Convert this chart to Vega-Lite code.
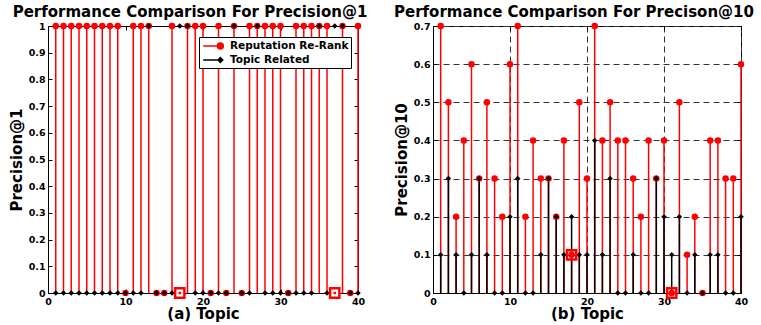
{
  "$schema": "https://vega.github.io/schema/vega-lite/v6.json",
  "background": "white",
  "padding": {"left": 8, "top": 4, "right": 0, "bottom": 0},
  "spacing": 25,
  "config": {
    "view": {"stroke": "black", "strokeWidth": 1},
    "axis": {"domainColor": "black", "domainWidth": 1, "tickColor": "black", "tickSize": -4, "tickWidth": 1, "labelFont": "DejaVu Sans", "labelFontWeight": "bold", "labelFontSize": 9.5, "labelColor": "black", "labelPadding": 7, "titleFont": "DejaVu Sans", "titleFontWeight": "bold", "titleFontSize": 15, "titleColor": "black", "grid": false, "labelFlush": false},
    "axisX": {"titlePadding": 1},
    "axisY": {"titlePadding": 4},
    "title": {"font": "DejaVu Sans", "fontSize": 15, "fontWeight": "bold", "color": "black", "anchor": "middle", "frame": "group", "offset": 1},
    "legend": {"orient": "none", "strokeColor": "black", "fillColor": "white", "padding": 2, "symbolSize": 144, "symbolStrokeWidth": 1.5, "symbolOpacity": 1, "labelFont": "DejaVu Sans", "labelFontWeight": "bold", "labelFontSize": 10.5, "labelColor": "black", "labelOffset": 12, "symbolOffset": 3, "rowPadding": 0}
  },
  "datasets": {
    "p1": [
      {"topic": 1, "series": "Reputation Re-Rank", "value": 1}, {"topic": 1, "series": "Topic Related", "value": 0},
      {"topic": 2, "series": "Reputation Re-Rank", "value": 1}, {"topic": 2, "series": "Topic Related", "value": 0},
      {"topic": 3, "series": "Reputation Re-Rank", "value": 1}, {"topic": 3, "series": "Topic Related", "value": 0},
      {"topic": 4, "series": "Reputation Re-Rank", "value": 1}, {"topic": 4, "series": "Topic Related", "value": 0},
      {"topic": 5, "series": "Reputation Re-Rank", "value": 1}, {"topic": 5, "series": "Topic Related", "value": 0},
      {"topic": 6, "series": "Reputation Re-Rank", "value": 1}, {"topic": 6, "series": "Topic Related", "value": 0},
      {"topic": 7, "series": "Reputation Re-Rank", "value": 1}, {"topic": 7, "series": "Topic Related", "value": 0},
      {"topic": 8, "series": "Reputation Re-Rank", "value": 1}, {"topic": 8, "series": "Topic Related", "value": 0},
      {"topic": 9, "series": "Reputation Re-Rank", "value": 1}, {"topic": 9, "series": "Topic Related", "value": 0},
      {"topic": 10, "series": "Reputation Re-Rank", "value": 0}, {"topic": 10, "series": "Topic Related", "value": 0},
      {"topic": 11, "series": "Reputation Re-Rank", "value": 1}, {"topic": 11, "series": "Topic Related", "value": 0},
      {"topic": 12, "series": "Reputation Re-Rank", "value": 1}, {"topic": 12, "series": "Topic Related", "value": 0},
      {"topic": 13, "series": "Reputation Re-Rank", "value": 1}, {"topic": 13, "series": "Topic Related", "value": 1},
      {"topic": 14, "series": "Reputation Re-Rank", "value": 0}, {"topic": 14, "series": "Topic Related", "value": 0},
      {"topic": 15, "series": "Reputation Re-Rank", "value": 0}, {"topic": 15, "series": "Topic Related", "value": 0},
      {"topic": 16, "series": "Reputation Re-Rank", "value": 1}, {"topic": 16, "series": "Topic Related", "value": 0},
      {"topic": 17, "series": "Reputation Re-Rank", "value": 0}, {"topic": 17, "series": "Topic Related", "value": 1},
      {"topic": 18, "series": "Reputation Re-Rank", "value": 1}, {"topic": 18, "series": "Topic Related", "value": 1},
      {"topic": 19, "series": "Reputation Re-Rank", "value": 1}, {"topic": 19, "series": "Topic Related", "value": 0},
      {"topic": 20, "series": "Reputation Re-Rank", "value": 1}, {"topic": 20, "series": "Topic Related", "value": 0},
      {"topic": 21, "series": "Reputation Re-Rank", "value": 0}, {"topic": 21, "series": "Topic Related", "value": 0},
      {"topic": 22, "series": "Reputation Re-Rank", "value": 1}, {"topic": 22, "series": "Topic Related", "value": 0},
      {"topic": 23, "series": "Reputation Re-Rank", "value": 0}, {"topic": 23, "series": "Topic Related", "value": 0},
      {"topic": 24, "series": "Reputation Re-Rank", "value": 1}, {"topic": 24, "series": "Topic Related", "value": 1},
      {"topic": 25, "series": "Reputation Re-Rank", "value": 0}, {"topic": 25, "series": "Topic Related", "value": 0},
      {"topic": 26, "series": "Reputation Re-Rank", "value": 1}, {"topic": 26, "series": "Topic Related", "value": 0},
      {"topic": 27, "series": "Reputation Re-Rank", "value": 1}, {"topic": 27, "series": "Topic Related", "value": 1},
      {"topic": 28, "series": "Reputation Re-Rank", "value": 1}, {"topic": 28, "series": "Topic Related", "value": 0},
      {"topic": 29, "series": "Reputation Re-Rank", "value": 1}, {"topic": 29, "series": "Topic Related", "value": 0},
      {"topic": 30, "series": "Reputation Re-Rank", "value": 1}, {"topic": 30, "series": "Topic Related", "value": 0},
      {"topic": 31, "series": "Reputation Re-Rank", "value": 0}, {"topic": 31, "series": "Topic Related", "value": 0},
      {"topic": 32, "series": "Reputation Re-Rank", "value": 1}, {"topic": 32, "series": "Topic Related", "value": 0},
      {"topic": 33, "series": "Reputation Re-Rank", "value": 1}, {"topic": 33, "series": "Topic Related", "value": 0},
      {"topic": 34, "series": "Reputation Re-Rank", "value": 1}, {"topic": 34, "series": "Topic Related", "value": 0},
      {"topic": 35, "series": "Reputation Re-Rank", "value": 1}, {"topic": 35, "series": "Topic Related", "value": 1},
      {"topic": 36, "series": "Reputation Re-Rank", "value": 1}, {"topic": 36, "series": "Topic Related", "value": 0},
      {"topic": 37, "series": "Reputation Re-Rank", "value": 0}, {"topic": 37, "series": "Topic Related", "value": 1},
      {"topic": 38, "series": "Reputation Re-Rank", "value": 1}, {"topic": 38, "series": "Topic Related", "value": 1},
      {"topic": 39, "series": "Reputation Re-Rank", "value": 0}, {"topic": 39, "series": "Topic Related", "value": 0},
      {"topic": 40, "series": "Reputation Re-Rank", "value": 1}, {"topic": 40, "series": "Topic Related", "value": 0}
    ],
    "p10": [
      {"topic": 1, "series": "Reputation Re-Rank", "value": 0.7}, {"topic": 1, "series": "Topic Related", "value": 0.1},
      {"topic": 2, "series": "Reputation Re-Rank", "value": 0.5}, {"topic": 2, "series": "Topic Related", "value": 0.3},
      {"topic": 3, "series": "Reputation Re-Rank", "value": 0.2}, {"topic": 3, "series": "Topic Related", "value": 0.1},
      {"topic": 4, "series": "Reputation Re-Rank", "value": 0.4}, {"topic": 4, "series": "Topic Related", "value": 0},
      {"topic": 5, "series": "Reputation Re-Rank", "value": 0.6}, {"topic": 5, "series": "Topic Related", "value": 0.1},
      {"topic": 6, "series": "Reputation Re-Rank", "value": 0.3}, {"topic": 6, "series": "Topic Related", "value": 0.3},
      {"topic": 7, "series": "Reputation Re-Rank", "value": 0.5}, {"topic": 7, "series": "Topic Related", "value": 0.1},
      {"topic": 8, "series": "Reputation Re-Rank", "value": 0.3}, {"topic": 8, "series": "Topic Related", "value": 0},
      {"topic": 9, "series": "Reputation Re-Rank", "value": 0.2}, {"topic": 9, "series": "Topic Related", "value": 0},
      {"topic": 10, "series": "Reputation Re-Rank", "value": 0.6}, {"topic": 10, "series": "Topic Related", "value": 0.2},
      {"topic": 11, "series": "Reputation Re-Rank", "value": 0.7}, {"topic": 11, "series": "Topic Related", "value": 0.3},
      {"topic": 12, "series": "Reputation Re-Rank", "value": 0.2}, {"topic": 12, "series": "Topic Related", "value": 0},
      {"topic": 13, "series": "Reputation Re-Rank", "value": 0.4}, {"topic": 13, "series": "Topic Related", "value": 0},
      {"topic": 14, "series": "Reputation Re-Rank", "value": 0.3}, {"topic": 14, "series": "Topic Related", "value": 0.1},
      {"topic": 15, "series": "Reputation Re-Rank", "value": 0.3}, {"topic": 15, "series": "Topic Related", "value": 0.3},
      {"topic": 16, "series": "Reputation Re-Rank", "value": 0.2}, {"topic": 16, "series": "Topic Related", "value": 0.2},
      {"topic": 17, "series": "Reputation Re-Rank", "value": 0.4}, {"topic": 17, "series": "Topic Related", "value": 0.1},
      {"topic": 18, "series": "Reputation Re-Rank", "value": 0.1}, {"topic": 18, "series": "Topic Related", "value": 0.2},
      {"topic": 19, "series": "Reputation Re-Rank", "value": 0.5}, {"topic": 19, "series": "Topic Related", "value": 0.1},
      {"topic": 20, "series": "Reputation Re-Rank", "value": 0.3}, {"topic": 20, "series": "Topic Related", "value": 0.1},
      {"topic": 21, "series": "Reputation Re-Rank", "value": 0.7}, {"topic": 21, "series": "Topic Related", "value": 0.4},
      {"topic": 22, "series": "Reputation Re-Rank", "value": 0.4}, {"topic": 22, "series": "Topic Related", "value": 0.1},
      {"topic": 23, "series": "Reputation Re-Rank", "value": 0.5}, {"topic": 23, "series": "Topic Related", "value": 0.3},
      {"topic": 24, "series": "Reputation Re-Rank", "value": 0.4}, {"topic": 24, "series": "Topic Related", "value": 0},
      {"topic": 25, "series": "Reputation Re-Rank", "value": 0.4}, {"topic": 25, "series": "Topic Related", "value": 0},
      {"topic": 26, "series": "Reputation Re-Rank", "value": 0.3}, {"topic": 26, "series": "Topic Related", "value": 0.1},
      {"topic": 27, "series": "Reputation Re-Rank", "value": 0.2}, {"topic": 27, "series": "Topic Related", "value": 0},
      {"topic": 28, "series": "Reputation Re-Rank", "value": 0.4}, {"topic": 28, "series": "Topic Related", "value": 0},
      {"topic": 29, "series": "Reputation Re-Rank", "value": 0.3}, {"topic": 29, "series": "Topic Related", "value": 0.3},
      {"topic": 30, "series": "Reputation Re-Rank", "value": 0.4}, {"topic": 30, "series": "Topic Related", "value": 0.2},
      {"topic": 31, "series": "Reputation Re-Rank", "value": 0}, {"topic": 31, "series": "Topic Related", "value": 0.1},
      {"topic": 32, "series": "Reputation Re-Rank", "value": 0.5}, {"topic": 32, "series": "Topic Related", "value": 0.2},
      {"topic": 33, "series": "Reputation Re-Rank", "value": 0.1}, {"topic": 33, "series": "Topic Related", "value": 0},
      {"topic": 34, "series": "Reputation Re-Rank", "value": 0.2}, {"topic": 34, "series": "Topic Related", "value": 0.1},
      {"topic": 35, "series": "Reputation Re-Rank", "value": 0}, {"topic": 35, "series": "Topic Related", "value": 0},
      {"topic": 36, "series": "Reputation Re-Rank", "value": 0.4}, {"topic": 36, "series": "Topic Related", "value": 0.1},
      {"topic": 37, "series": "Reputation Re-Rank", "value": 0.4}, {"topic": 37, "series": "Topic Related", "value": 0.1},
      {"topic": 38, "series": "Reputation Re-Rank", "value": 0.3}, {"topic": 38, "series": "Topic Related", "value": 0},
      {"topic": 39, "series": "Reputation Re-Rank", "value": 0.3}, {"topic": 39, "series": "Topic Related", "value": 0},
      {"topic": 40, "series": "Reputation Re-Rank", "value": 0.6}, {"topic": 40, "series": "Topic Related", "value": 0.2}
    ],
    "hl1": [{"topic": 17, "value": 0}, {"topic": 37, "value": 0}],
    "hl10": [{"topic": 18, "value": 0.1}, {"topic": 31, "value": 0}]
  },
  "hconcat": [
    {
      "width": 310,
      "height": 267,
      "title": {"text": "Performance Comparison For Precision@1", "dx": -13},
      "data": {"name": "p1"},
      "resolve": {"axis": {"x": "independent", "y": "independent"}},
      "layer": [
        {
          "transform": [{"filter": "datum.series === 'Reputation Re-Rank'"}],
          "mark": {"type": "rule", "color": "#ff0000", "strokeWidth": 1.5},
          "encoding": {
            "x": {"field": "topic", "type": "quantitative", "scale": {"domain": [0, 40], "nice": false, "zero": false}, "axis": {"values": [0, 10, 20, 30, 40], "title": "(a) Topic"}},
            "y": {"field": "value", "type": "quantitative", "scale": {"domain": [0, 1], "nice": false}, "axis": {"values": [0, 0.1, 0.2, 0.3, 0.4, 0.5, 0.6, 0.7, 0.8, 0.9, 1], "format": "~g", "title": "Precision@1"}},
            "y2": {"datum": 0}
          }
        },
        {
          "transform": [{"filter": "datum.series === 'Reputation Re-Rank'"}],
          "mark": {"type": "point", "filled": true, "color": "#ff0000", "size": 42, "opacity": 1},
          "encoding": {
            "x": {"field": "topic", "type": "quantitative", "scale": {"domain": [0, 40], "nice": false, "zero": false}, "axis": {"orient": "top", "values": [0, 10, 20, 30, 40], "labels": false, "domain": false, "title": null}},
            "y": {"field": "value", "type": "quantitative", "scale": {"domain": [0, 1], "nice": false}, "axis": {"orient": "right", "values": [0, 0.1, 0.2, 0.3, 0.4, 0.5, 0.6, 0.7, 0.8, 0.9, 1], "labels": false, "domain": false, "title": null}}
          }
        },
        {
          "transform": [{"filter": "datum.series === 'Topic Related'"}],
          "mark": {"type": "point", "filled": true, "shape": "diamond", "color": "#000000", "size": 30, "opacity": 1},
          "encoding": {
            "x": {"field": "topic", "type": "quantitative", "scale": {"domain": [0, 40], "nice": false, "zero": false}, "axis": null},
            "y": {"field": "value", "type": "quantitative", "scale": {"domain": [0, 1], "nice": false}, "axis": null}
          }
        },
        {
          "data": {"name": "hl1"},
          "mark": {"type": "point", "shape": "square", "filled": true, "fill": "white", "stroke": "#ff0000", "strokeWidth": 2.5, "size": 86, "opacity": 1},
          "encoding": {
            "x": {"field": "topic", "type": "quantitative", "scale": {"domain": [0, 40], "nice": false, "zero": false}, "axis": null},
            "y": {"field": "value", "type": "quantitative", "scale": {"domain": [0, 1], "nice": false}, "axis": null}
          }
        },
        {
          "data": {"name": "hl1"},
          "mark": {"type": "point", "shape": "square", "filled": true, "color": "#ff0000", "size": 6, "opacity": 1},
          "encoding": {
            "x": {"field": "topic", "type": "quantitative", "scale": {"domain": [0, 40], "nice": false, "zero": false}, "axis": null},
            "y": {"field": "value", "type": "quantitative", "scale": {"domain": [0, 1], "nice": false}, "axis": null}
          }
        },
        {
          "mark": {"type": "point", "filled": true, "opacity": 0},
          "encoding": {
            "x": {"field": "topic", "type": "quantitative", "scale": {"domain": [0, 40], "nice": false, "zero": false}, "axis": null},
            "y": {"field": "value", "type": "quantitative", "scale": {"domain": [0, 1], "nice": false}, "axis": null},
            "color": {"field": "series", "type": "nominal", "scale": {"domain": ["Reputation Re-Rank", "Topic Related"], "range": ["#ff0000", "#000000"]}, "legend": {"title": null, "legendX": 151, "legendY": 11}},
            "stroke": {"field": "series", "type": "nominal", "scale": {"domain": ["Reputation Re-Rank", "Topic Related"], "range": ["#ff0000", "#000000"]}, "legend": {"title": null, "legendX": 151, "legendY": 11}},
            "shape": {"field": "series", "type": "nominal", "scale": {"domain": ["Reputation Re-Rank", "Topic Related"], "range": ["M-1.3,0L1.55,0M1.05,0A0.5,0.5,0,1,1,2.05,0A0.5,0.5,0,1,1,1.05,0Z", "M-1.3,0L1.55,0M1.55,-0.4L1.95,0L1.55,0.4L1.15,0Z"]}, "legend": {"title": null, "legendX": 151, "legendY": 11}}
          }
        }
      ]
    },
    {
      "width": 308,
      "height": 267,
      "title": {"text": "Performance Comparison For Precison@10", "dx": -13},
      "data": {"name": "p10"},
      "resolve": {"axis": {"x": "independent", "y": "independent"}},
      "layer": [
        {
          "transform": [{"filter": "datum.series === 'Reputation Re-Rank'"}],
          "mark": {"type": "rule", "color": "#ff0000", "strokeWidth": 1.5},
          "encoding": {
            "x": {"field": "topic", "type": "quantitative", "scale": {"domain": [0, 40], "nice": false, "zero": false}, "axis": {"values": [0, 10, 20, 30, 40], "title": "(b) Topic", "grid": true, "gridDash": [6, 4], "gridColor": "#333333", "gridWidth": 1}},
            "y": {"field": "value", "type": "quantitative", "scale": {"domain": [0, 0.7], "nice": false}, "axis": {"values": [0, 0.1, 0.2, 0.3, 0.4, 0.5, 0.6, 0.7], "format": "~g", "title": "Precision@10", "grid": true, "gridDash": [6, 4], "gridColor": "#333333", "gridWidth": 1}},
            "y2": {"datum": 0}
          }
        },
        {
          "transform": [{"filter": "datum.series === 'Topic Related'"}],
          "mark": {"type": "rule", "color": "#000000", "strokeWidth": 1.5},
          "encoding": {
            "x": {"field": "topic", "type": "quantitative", "scale": {"domain": [0, 40], "nice": false, "zero": false}, "axis": null},
            "y": {"field": "value", "type": "quantitative", "scale": {"domain": [0, 0.7], "nice": false}, "axis": null},
            "y2": {"datum": 0}
          }
        },
        {
          "transform": [{"filter": "datum.series === 'Reputation Re-Rank'"}],
          "mark": {"type": "point", "filled": true, "color": "#ff0000", "size": 42, "opacity": 1},
          "encoding": {
            "x": {"field": "topic", "type": "quantitative", "scale": {"domain": [0, 40], "nice": false, "zero": false}, "axis": {"orient": "top", "values": [0, 10, 20, 30, 40], "labels": false, "domain": false, "title": null}},
            "y": {"field": "value", "type": "quantitative", "scale": {"domain": [0, 0.7], "nice": false}, "axis": {"orient": "right", "values": [0, 0.1, 0.2, 0.3, 0.4, 0.5, 0.6, 0.7], "labels": false, "domain": false, "title": null}}
          }
        },
        {
          "transform": [{"filter": "datum.series === 'Topic Related'"}],
          "mark": {"type": "point", "filled": true, "shape": "diamond", "color": "#000000", "size": 30, "opacity": 1},
          "encoding": {
            "x": {"field": "topic", "type": "quantitative", "scale": {"domain": [0, 40], "nice": false, "zero": false}, "axis": null},
            "y": {"field": "value", "type": "quantitative", "scale": {"domain": [0, 0.7], "nice": false}, "axis": null}
          }
        },
        {
          "data": {"name": "hl10"},
          "mark": {"type": "point", "shape": "square", "filled": false, "stroke": "#ff0000", "strokeWidth": 2.5, "size": 86, "opacity": 1},
          "encoding": {
            "x": {"field": "topic", "type": "quantitative", "scale": {"domain": [0, 40], "nice": false, "zero": false}, "axis": null},
            "y": {"field": "value", "type": "quantitative", "scale": {"domain": [0, 0.7], "nice": false}, "axis": null}
          }
        },
        {
          "mark": {"type": "point", "filled": true, "opacity": 0},
          "encoding": {
            "x": {"field": "topic", "type": "quantitative", "scale": {"domain": [0, 40], "nice": false, "zero": false}, "axis": null},
            "y": {"field": "value", "type": "quantitative", "scale": {"domain": [0, 0.7], "nice": false}, "axis": null},
            "color": {"field": "series", "type": "nominal", "scale": {"domain": ["Reputation Re-Rank", "Topic Related"], "range": ["#ff0000", "#000000"]}, "legend": {"title": null, "legendX": 146, "legendY": 7}},
            "stroke": {"field": "series", "type": "nominal", "scale": {"domain": ["Reputation Re-Rank", "Topic Related"], "range": ["#ff0000", "#000000"]}, "legend": {"title": null, "legendX": 146, "legendY": 7}},
            "shape": {"field": "series", "type": "nominal", "scale": {"domain": ["Reputation Re-Rank", "Topic Related"], "range": ["M-1.3,0L1.55,0M1.05,0A0.5,0.5,0,1,1,2.05,0A0.5,0.5,0,1,1,1.05,0Z", "M-1.3,0L1.55,0M1.55,-0.4L1.95,0L1.55,0.4L1.15,0Z"]}, "legend": {"title": null, "legendX": 146, "legendY": 7}}
          }
        }
      ]
    }
  ]
}
